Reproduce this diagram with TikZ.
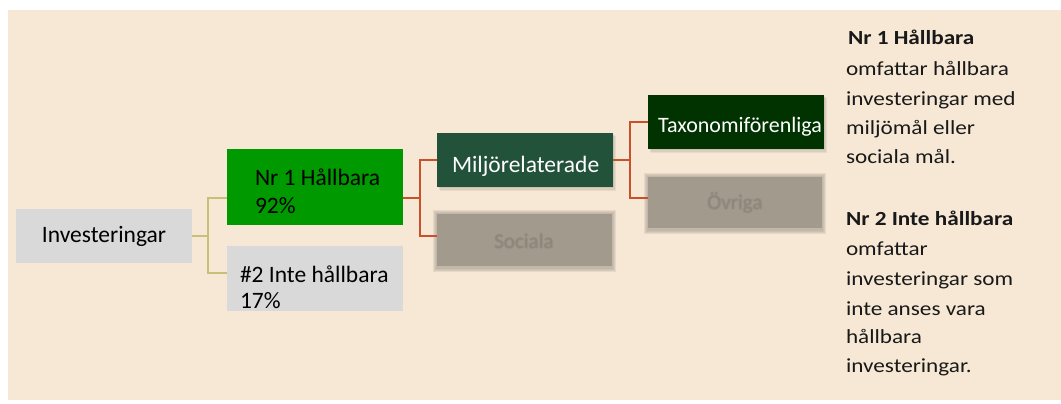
\documentclass[tikz,border=0pt]{standalone}
\usepackage{fontspec}
\setmainfont{Carlito}
\newfontfamily\sidefont[FakeStretch=1.16]{Carlito}
\usetikzlibrary{calc}
\definecolor{bg}{HTML}{F6E8D5}
\definecolor{lgray}{HTML}{D9D9D9}
\definecolor{hgreen}{HTML}{009900}
\definecolor{mgreen}{HTML}{23523B}
\definecolor{tgreen}{HTML}{003300}
\definecolor{blurfill}{HTML}{A39A8E}
\definecolor{blurhalo}{HTML}{938A7E}
\definecolor{blurtext}{HTML}{8A8276}
\definecolor{olive}{HTML}{C8BF78}
\definecolor{rust}{HTML}{C8502A}
\tikzset{
  box/.style={inner sep=0pt, outer sep=0pt, anchor=north west},
  boxtext/.style={inner sep=0pt, outer sep=0pt, anchor=base west, font=\fontsize{23.5}{28}\selectfont},
  blurtxt/.style={inner sep=0pt, outer sep=0pt, anchor=center, text=blurtext, font=\fontsize{21}{25}\selectfont},
  sidetext/.style={inner sep=0pt, outer sep=0pt, anchor=base west, font=\sidefont\fontsize{20}{29}\selectfont, text=black!90},
  oconn/.style={draw=olive, line width=2pt},
  rconn/.style={draw=rust, line width=2pt},
}
\begin{document}
\begin{tikzpicture}[x=1pt,y=-1pt]
\useasboundingbox (0,0) rectangle (1061,404);
\fill[bg] (8,10) rectangle (1061,400);

% boxes
\node[box, fill=lgray, minimum width=176, minimum height=54] (inv) at (16,209) {};
\node[box, fill=hgreen, minimum width=176, minimum height=76] (nr1) at (227,149) {};
\node[box, fill=lgray, minimum width=176, minimum height=65] (nr2) at (227,246) {};

% shadows
\foreach \k in {1,2,3}{
  \fill[black, opacity=0.06] (437+\k,133+\k) rectangle (613+\k,187+1.3*\k);
  \fill[black, opacity=0.06] (648+\k,95+\k) rectangle (824+\k,149+1.3*\k);
}
\node[box, fill=mgreen, minimum width=176, minimum height=54] (mil) at (437,133) {};
\node[box, fill=tgreen, minimum width=176, minimum height=54] (tax) at (648,95) {};

% blurred boxes
\foreach \k in {1,2,3,4}{
  \fill[blurhalo, opacity=0.16] (437-\k,214-\k) rectangle (612+\k,268+\k);
  \fill[blurhalo, opacity=0.16] (648-\k,177-\k) rectangle (822+\k,230+\k);
}
\node[box, fill=blurfill, minimum width=175, minimum height=52] (soc) at (437,214) {};
\node[box, fill=blurfill, minimum width=174, minimum height=51] (ovr) at (648,177) {};

% texts
\node[boxtext, anchor=center] (invt) at (inv.center) {Investeringar};
\node[boxtext] (nr1a) at (255,185) {Nr 1 Hållbara};
\node[boxtext] (nr1b) at (255,213) {92\%};
\node[boxtext] (nr2a) at (240,282) {\#2 Inte hållbara};
\node[boxtext] (nr2b) at (240,308) {17\%};
\node[boxtext, text=white] (milt) at (452,172) {Miljörelaterade};
\begin{scope}
  \clip (tax.north west) rectangle (tax.south east);
  \node[boxtext, text=white, font=\fontsize{22}{26}\selectfont] (taxt) at (658,132) {Taxonomiförenliga};
\end{scope}
\node[blurtxt, opacity=0.45] (soct) at (524,241) {Sociala};
\node[blurtxt, opacity=0.45] (ovrt) at (735,203) {Övriga};
\foreach \dx/\dy [count=\i] in {1/0,-1/0,0/1,0/-1}{
  \node[blurtxt, opacity=0.25] (soct\i) at (524+\dx,241+\dy) {Sociala};
  \node[blurtxt, opacity=0.25] (ovrt\i) at (735+\dx,203+\dy) {Övriga};
}

% connectors
\coordinate (nr1in) at (nr1.west |- 0,198);
\coordinate (nr2in) at (nr2.west |- 0,273);
\draw[oconn] (inv.east) -- ++(16,0) |- (nr1in);
\draw[oconn] (inv.east) ++(16,0) |- (nr2in);
\coordinate (nr1out) at (nr1.east |- 0,198);
\coordinate (socin) at (soc.west |- 0,236);
\draw[rconn] (nr1out) -- ++(17,0) |- (mil.west);
\draw[rconn] (nr1out) ++(17,0) |- (socin);
\coordinate (ovrin) at (ovr.west |- 0,198);
\draw[rconn] (mil.east) -- ++(17,0) |- (tax.west);
\draw[rconn] (mil.east) ++(17,0) |- (ovrin);

% side text
\node[sidetext, font=\sidefont\bfseries\fontsize{20}{29}\selectfont] (s1) at (848,45) {Nr 1 Hållbara};
\node[sidetext] (s2) at (846,76) {omfattar hållbara};
\node[sidetext] (s3) at (846,106) {investeringar med};
\node[sidetext] (s4) at (846,135) {miljömål eller};
\node[sidetext] (s5) at (846,163) {sociala mål.};
\node[sidetext, font=\sidefont\bfseries\fontsize{20}{29}\selectfont] (s6) at (846,225) {Nr 2 Inte hållbara};
\node[sidetext] (s7) at (846,255) {omfattar};
\node[sidetext] (s8) at (846,285) {investeringar som};
\node[sidetext] (s9) at (846,315) {inte anses vara};
\node[sidetext] (s10) at (846,343) {hållbara};
\node[sidetext] (s11) at (846,372) {investeringar.};
\end{tikzpicture}
\end{document}
